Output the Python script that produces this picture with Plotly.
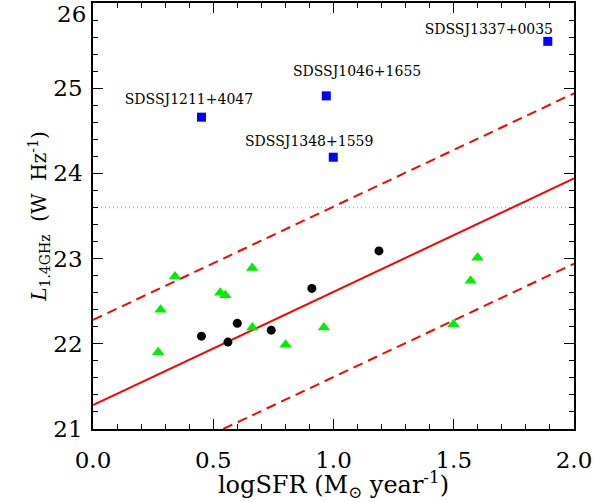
import plotly.graph_objects as go

# Black circles
circ_x = [0.451, 0.561, 0.600, 0.741, 0.910, 1.189]
circ_y = [22.09, 22.02, 22.24, 22.16, 22.65, 23.09]

# Green triangles
tri_x = [0.271, 0.281, 0.341, 0.529, 0.550, 0.662, 0.663, 0.801, 0.960, 1.499, 1.570, 1.599]
tri_y = [21.90, 22.40, 22.79, 22.60, 22.57, 22.89, 22.19, 21.99, 22.19, 22.23, 22.74, 23.01]

# Blue squares (labelled sources)
sq_x = [0.451, 0.970, 0.999, 1.891]
sq_y = [24.66, 24.91, 24.19, 25.55]
sq_names = ["SDSSJ1211+4047", "SDSSJ1046+1655", "SDSSJ1348+1559", "SDSSJ1337+0035"]
lab_x = [0.399, 1.098, 0.899, 1.646]
lab_y = [24.86, 25.18, 24.36, 25.68]

# Fit line and +/- 1 dex envelopes
fit_x = [0.0, 2.0]
fit_y = [21.28, 23.94]
upper_y = [22.28, 24.94]
lower_y = [20.28, 22.94]

# Threshold
thr_x = [0.0, 2.0]
thr_y = [23.6, 23.6]

# Axis ticks
y_ticks = [21, 22, 23, 24, 25, 26]
y_ticktext = ["21", "22", "23", "24", "25", ""]   # top label drawn below as annotation
x_ticks = [0, 0.5, 1.0, 1.5, 2.0]
x_ticktext = ["0.0", "0.5", "1.0", "1.5", "2.0"]

FONT = "DejaVu Serif"

fig = go.Figure()
fig.add_trace(go.Scatter(x=thr_x, y=thr_y, mode="lines",
                         line=dict(color="#b0b0b0", width=1.3, dash="1px,3px"),
                         showlegend=False, hoverinfo="skip"))
fig.add_trace(go.Scatter(x=fit_x, y=fit_y, mode="lines",
                         line=dict(color="#ff0000", width=2), showlegend=False))
fig.add_trace(go.Scatter(x=fit_x, y=upper_y, mode="lines",
                         line=dict(color="#ff0000", width=2, dash="10px,6px"), showlegend=False))
fig.add_trace(go.Scatter(x=fit_x, y=lower_y, mode="lines",
                         line=dict(color="#ff0000", width=2, dash="10px,6px"), showlegend=False))
fig.add_trace(go.Scatter(x=tri_x, y=tri_y, mode="markers",
                         marker=dict(symbol="triangle-up", size=11, color="#00ee00"),
                         showlegend=False))
fig.add_trace(go.Scatter(x=circ_x, y=circ_y, mode="markers",
                         marker=dict(symbol="circle", size=9, color="black"),
                         showlegend=False))
fig.add_trace(go.Scatter(x=sq_x, y=sq_y, mode="markers",
                         marker=dict(symbol="square", size=9, color="#0000ff"),
                         showlegend=False))
fig.add_trace(go.Scatter(x=lab_x, y=lab_y, mode="text", text=sq_names,
                         textfont=dict(family=FONT, size=14, color="black"),
                         textposition="middle center", showlegend=False))

axis_common = dict(
    showgrid=False, zeroline=False, showline=True, linecolor="black", linewidth=1.5,
    mirror="allticks", ticks="inside", ticklen=10, tickwidth=1.3, tickcolor="black",
    tickfont=dict(family=FONT, size=23, color="black"), ticklabeloverflow="allow",
    automargin=False,
)

fig.update_xaxes(range=[0, 2], tickmode="array", tickvals=x_ticks,
                 ticktext=x_ticktext, ticklabelstandoff=10,
                 minor=dict(dtick=0.1, ticks="inside", ticklen=5, tickwidth=1.3, tickcolor="black"),
                 title=dict(text="logSFR (M<sub>⊙</sub> year<sup>-1</sup>)",
                            font=dict(family=FONT, size=24, color="black"), standoff=0),
                 **axis_common)
fig.update_yaxes(range=[21, 26], tickmode="array", tickvals=y_ticks, ticktext=y_ticktext,
                 ticklabelstandoff=4,
                 minor=dict(dtick=0.2, ticks="inside", ticklen=5, tickwidth=1.3, tickcolor="black"),
                 title=dict(text="<i>L</i><sub>1.4GHz</sub>  (W  Hz<sup>-1</sup>)",
                            font=dict(family=FONT, size=20, color="black"), standoff=1),
                 **axis_common)

fig.add_annotation(xref="paper", yref="y", x=0, y=y_ticks[-1], text=str(y_ticks[-1]),
                   showarrow=False, xanchor="right", yanchor="top", xshift=-5, yshift=4,
                   font=dict(family=FONT, size=23, color="black"))

fig.update_layout(width=613, height=502, margin=dict(l=93, r=39, t=3, b=73),
                  plot_bgcolor="white", paper_bgcolor="white")

fig.write_html("out.html")
